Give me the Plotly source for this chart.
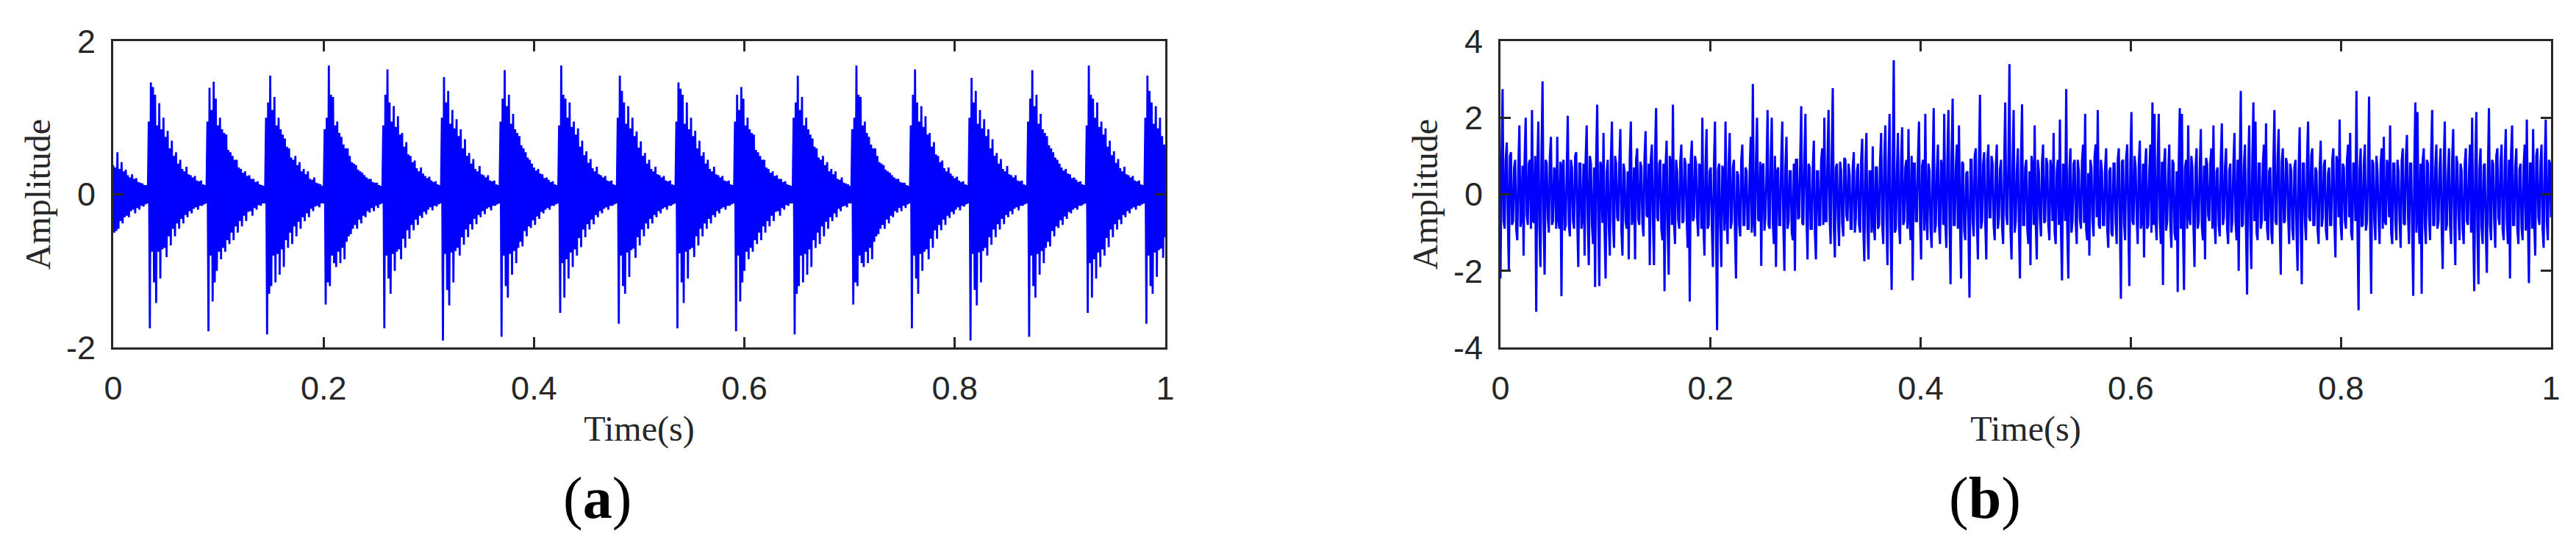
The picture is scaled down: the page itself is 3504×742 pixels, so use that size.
import numpy as np
import plotly.graph_objects as go

# ---- (a) periodic impulse signal -------------------------------------------
# tail of the previous impact, before the first impulse (t < 0.034 s)
lead_in_a = [0.38, -0.5, 0.35, -0.48, 0.55, -0.45, 0.33, -0.35, 0.42, -0.38, 0.3, -0.3,
             0.32, -0.28, 0.25, -0.3, 0.22, -0.22, 0.26, -0.2, 0.2, -0.25, 0.21, -0.18,
             0.16, -0.2, 0.15, -0.15, 0.14, -0.16, 0.12, -0.13, 0.12, -0.12]

# one row per impact, 56 samples per period; the last impact is cut at t = 1 s
bursts_a = [
    [0.95, -1.75, 1.46, -0.75, 1.4, -1.15, 1.3, -1.42, 0.9, -0.75, 1.19, -1.1, 0.85, -0.72, 1.0, -0.7, 0.75, -0.82, 0.83, -0.55, 0.6, -0.67, 0.7, -0.45, 0.5, -0.55, 0.55, -0.38,
     0.4, -0.45, 0.45, -0.32, 0.33, -0.38, 0.3, -0.27, 0.36, -0.3, 0.26, -0.22, 0.25, -0.25, 0.22, -0.19, 0.24, -0.17, 0.18, -0.2, 0.17, -0.15, 0.18, -0.15, 0.13, -0.13, 0.12, -0.12],
    [0.95, -1.79, 1.39, -0.8, 1.1, -1.4, 1.47, -1.15, 1.25, -1.0, 0.9, -0.75, 1.0, -0.85, 0.85, -0.7, 0.8, -0.75, 0.78, -0.6, 0.58, -0.65, 0.55, -0.5, 0.5, -0.6, 0.45, -0.42,
     0.45, -0.5, 0.35, -0.35, 0.33, -0.42, 0.28, -0.28, 0.3, -0.35, 0.24, -0.23, 0.25, -0.22, 0.2, -0.28, 0.2, -0.18, 0.16, -0.2, 0.17, -0.14, 0.13, -0.15, 0.12, -0.12, 0.11, -0.12],
    [1.0, -1.83, 1.2, -1.3, 1.55, -1.2, 1.1, -0.8, 1.27, -1.15, 0.9, -0.78, 1.0, -1.05, 0.85, -0.72, 0.78, -0.95, 0.73, -0.6, 0.62, -0.7, 0.6, -0.5, 0.48, -0.65, 0.45, -0.42,
     0.5, -0.55, 0.38, -0.36, 0.42, -0.45, 0.3, -0.3, 0.33, -0.35, 0.26, -0.25, 0.3, -0.3, 0.2, -0.19, 0.19, -0.22, 0.22, -0.16, 0.15, -0.15, 0.14, -0.17, 0.13, -0.12, 0.11, -0.12],
    [0.85, -1.44, 1.0, -1.15, 1.68, -1.2, 1.3, -0.8, 1.27, -0.9, 0.9, -0.95, 0.95, -0.75, 0.8, -0.9, 0.75, -0.7, 0.65, -0.85, 0.6, -0.62, 0.6, -0.55, 0.5, -0.52, 0.42, -0.45,
     0.4, -0.4, 0.38, -0.45, 0.32, -0.33, 0.3, -0.38, 0.28, -0.28, 0.25, -0.3, 0.22, -0.22, 0.2, -0.24, 0.2, -0.18, 0.16, -0.22, 0.15, -0.15, 0.15, -0.18, 0.12, -0.13, 0.11, -0.12],
    [0.9, -1.75, 1.3, -0.8, 1.63, -1.1, 1.2, -1.3, 0.95, -0.78, 1.15, -1.0, 0.88, -0.75, 1.02, -0.72, 0.78, -0.85, 0.8, -0.58, 0.62, -0.7, 0.68, -0.47, 0.52, -0.58, 0.5, -0.4,
     0.42, -0.47, 0.44, -0.33, 0.34, -0.4, 0.3, -0.28, 0.35, -0.31, 0.27, -0.23, 0.24, -0.26, 0.21, -0.2, 0.23, -0.17, 0.18, -0.21, 0.16, -0.15, 0.17, -0.16, 0.13, -0.13, 0.12, -0.12],
    [1.0, -1.91, 1.53, -0.78, 1.2, -1.25, 1.35, -1.45, 0.92, -0.76, 1.1, -1.15, 0.86, -0.74, 0.98, -0.7, 0.76, -0.8, 0.85, -0.56, 0.6, -0.66, 0.72, -0.46, 0.5, -0.56, 0.54, -0.39,
     0.4, -0.46, 0.46, -0.32, 0.33, -0.39, 0.3, -0.27, 0.37, -0.3, 0.26, -0.22, 0.25, -0.26, 0.22, -0.19, 0.25, -0.17, 0.18, -0.21, 0.17, -0.15, 0.18, -0.15, 0.13, -0.13, 0.12, -0.12],
    [0.95, -1.86, 1.25, -0.8, 1.62, -1.2, 1.15, -1.35, 1.3, -0.78, 0.92, -1.05, 1.05, -0.74, 0.85, -0.9, 0.8, -0.7, 0.76, -0.62, 0.64, -0.68, 0.6, -0.48, 0.55, -0.55, 0.48, -0.42,
     0.45, -0.44, 0.4, -0.34, 0.35, -0.4, 0.31, -0.29, 0.33, -0.32, 0.27, -0.23, 0.26, -0.25, 0.21, -0.2, 0.22, -0.18, 0.19, -0.2, 0.16, -0.15, 0.17, -0.15, 0.13, -0.13, 0.12, -0.12],
    [0.9, -1.55, 1.68, -0.9, 1.3, -1.35, 1.25, -0.85, 1.0, -1.1, 1.2, -0.76, 0.88, -0.95, 0.95, -0.72, 0.78, -0.8, 0.86, -0.57, 0.62, -0.69, 0.7, -0.46, 0.51, -0.56, 0.56, -0.39,
     0.41, -0.46, 0.46, -0.33, 0.34, -0.39, 0.3, -0.27, 0.36, -0.3, 0.26, -0.22, 0.25, -0.25, 0.22, -0.19, 0.24, -0.17, 0.18, -0.2, 0.17, -0.15, 0.18, -0.15, 0.13, -0.13, 0.12, -0.12],
    [1.0, -1.69, 1.55, -0.8, 1.35, -1.2, 1.2, -1.3, 0.92, -0.76, 1.15, -1.08, 0.86, -0.73, 1.0, -0.71, 0.76, -0.83, 0.82, -0.56, 0.61, -0.67, 0.69, -0.46, 0.5, -0.55, 0.54, -0.38,
     0.4, -0.45, 0.45, -0.32, 0.33, -0.38, 0.3, -0.27, 0.36, -0.3, 0.26, -0.22, 0.25, -0.25, 0.22, -0.19, 0.24, -0.17, 0.18, -0.2, 0.17, -0.15, 0.18, -0.15, 0.13, -0.13, 0.12, -0.12],
    [0.95, -1.75, 1.46, -0.77, 1.38, -1.15, 1.3, -1.42, 0.92, -0.75, 1.2, -1.1, 0.85, -0.72, 1.0, -0.7, 0.76, -0.82, 0.83, -0.55, 0.6, -0.67, 0.7, -0.45, 0.5, -0.55, 0.55, -0.38,
     0.4, -0.45, 0.45, -0.32, 0.33, -0.38, 0.3, -0.27, 0.36, -0.3, 0.26, -0.22, 0.25, -0.25, 0.22, -0.19, 0.24, -0.17, 0.18, -0.2, 0.17, -0.15, 0.18, -0.15, 0.13, -0.13, 0.12, -0.12],
    [0.95, -1.79, 1.3, -0.8, 1.1, -1.4, 1.4, -1.15, 1.25, -1.0, 0.9, -0.75, 1.0, -0.85, 0.85, -0.7, 0.8, -0.75, 0.78, -0.6, 0.58, -0.65, 0.55, -0.5, 0.5, -0.6, 0.45, -0.42,
     0.45, -0.5, 0.35, -0.35, 0.33, -0.42, 0.28, -0.28, 0.3, -0.35, 0.24, -0.23, 0.25, -0.22, 0.2, -0.28, 0.2, -0.18, 0.16, -0.2, 0.17, -0.14, 0.13, -0.15, 0.12, -0.12, 0.11, -0.12],
    [1.0, -1.83, 1.2, -1.3, 1.55, -1.2, 1.1, -0.8, 1.27, -1.15, 0.9, -0.78, 1.0, -1.05, 0.85, -0.72, 0.78, -0.95, 0.73, -0.6, 0.62, -0.7, 0.6, -0.5, 0.48, -0.65, 0.45, -0.42,
     0.5, -0.55, 0.38, -0.36, 0.42, -0.45, 0.3, -0.3, 0.33, -0.35, 0.26, -0.25, 0.3, -0.3, 0.2, -0.19, 0.19, -0.22, 0.22, -0.16, 0.15, -0.15, 0.14, -0.17, 0.13, -0.12, 0.11, -0.12],
    [0.85, -1.44, 1.0, -1.15, 1.68, -1.2, 1.3, -0.8, 1.27, -0.9, 0.9, -0.95, 0.95, -0.75, 0.8, -0.9, 0.75, -0.7, 0.65, -0.85, 0.6, -0.62, 0.6, -0.55, 0.5, -0.52, 0.42, -0.45,
     0.4, -0.4, 0.38, -0.45, 0.32, -0.33, 0.3, -0.38, 0.28, -0.28, 0.25, -0.3, 0.22, -0.22, 0.2, -0.24, 0.2, -0.18, 0.16, -0.22, 0.15, -0.15, 0.15, -0.18, 0.12, -0.13, 0.11, -0.12],
    [0.9, -1.75, 1.3, -0.8, 1.63, -1.1, 1.2, -1.3, 0.95, -0.78, 1.15, -1.0, 0.88, -0.75, 1.02, -0.72, 0.78, -0.85, 0.8, -0.58, 0.62, -0.7, 0.68, -0.47, 0.52, -0.58, 0.5, -0.4,
     0.42, -0.47, 0.44, -0.33, 0.34, -0.4, 0.3, -0.28, 0.35, -0.31, 0.27, -0.23, 0.24, -0.26, 0.21, -0.2, 0.23, -0.17, 0.18, -0.21, 0.16, -0.15, 0.17, -0.16, 0.13, -0.13, 0.12, -0.12],
    [1.0, -1.91, 1.52, -0.78, 1.2, -1.25, 1.35, -1.45, 0.92, -0.76, 1.1, -1.15, 0.86, -0.74, 0.98, -0.7, 0.76, -0.8, 0.85, -0.56, 0.6, -0.66, 0.72, -0.46, 0.5, -0.56, 0.54, -0.39,
     0.4, -0.46, 0.46, -0.32, 0.33, -0.39, 0.3, -0.27, 0.37, -0.3, 0.26, -0.22, 0.25, -0.26, 0.22, -0.19, 0.25, -0.17, 0.18, -0.21, 0.17, -0.15, 0.18, -0.15, 0.13, -0.13, 0.12, -0.12],
    [0.95, -1.86, 1.25, -0.8, 1.62, -1.2, 1.15, -1.35, 1.3, -0.78, 0.92, -1.05, 1.05, -0.74, 0.85, -0.9, 0.8, -0.7, 0.76, -0.62, 0.64, -0.68, 0.6, -0.48, 0.55, -0.55, 0.48, -0.42,
     0.45, -0.44, 0.4, -0.34, 0.35, -0.4, 0.31, -0.29, 0.33, -0.32, 0.27, -0.23, 0.26, -0.25, 0.21, -0.2, 0.22, -0.18, 0.19, -0.2, 0.16, -0.15, 0.17, -0.15, 0.13, -0.13, 0.12, -0.12],
    [0.9, -1.55, 1.68, -0.9, 1.3, -1.35, 1.25, -0.85, 1.0, -1.1, 1.2, -0.76, 0.88, -0.95, 0.95, -0.72, 0.78, -0.8, 0.86, -0.57, 0.62, -0.69, 0.7, -0.46, 0.51, -0.56, 0.56, -0.39,
     0.41, -0.46, 0.46, -0.33, 0.34, -0.39, 0.3, -0.27, 0.36, -0.3, 0.26, -0.22, 0.25, -0.25, 0.22, -0.19, 0.24, -0.17, 0.18, -0.2, 0.17, -0.15, 0.18, -0.15, 0.13, -0.13, 0.12, -0.12],
    [1.0, -1.69, 1.55, -0.8, 1.35, -1.2, 1.2, -1.3, 0.92, -0.76, 1.15, -1.08, 0.86, -0.73, 1.0, -0.71, 0.76, -0.83, 0.65, -0.56],
]

# ---- (b) noise signal (1000 samples over 1 s) ------------------------------
sig_b = [
    -2.2, 0.8, 2.75, -0.7, -0.9, 0.9, 1.35, -0.6, -2.0, 1.0, 1.1, -0.8, -0.7, 0.7, 0.9, -0.9, -1.2, 0.65, 1.8, -0.85,
    -0.6, 0.75, -1.6, 0.95, 2.0, -0.55, -0.8, 0.8, 0.9, -0.9, 2.2, -0.7, -0.75, 1.0, -3.07, 0.6, 1.9, -0.8, -1.9, 0.9,
    2.95, -0.7, -2.1, 0.9, 0.8, -0.6, -1.0, 1.0, 1.5, -0.8, -0.7, 0.7, 0.6, -0.9, 1.5, -0.65, -0.9, 0.85, -2.66, 0.75,
    0.9, -0.95, -0.8, 0.55, 2.05, -0.8, -1.1, 0.9, 0.7, -0.7, -0.9, 1.0, 1.1, -0.6, -1.9, 0.8, 0.8, -0.9, -0.6, 0.8,
    -1.6, 0.9, 1.8, -0.6, -1.85, 1.0, 0.8, -0.8, -1.3, 0.7, -2.42, 0.9, 2.34, -0.65, -2.4, 0.85, 0.7, -0.75, 1.6, -0.95,
    -2.2, 0.55, 0.9, -0.8, -1.6, 0.9, 1.9, -0.7, -1.4, 1.0, 0.8, -0.6, -0.7, 0.8, 1.7, -0.9, -1.6, 0.8, 0.6, -0.7,
    -0.9, 0.6, -1.7, 1.0, 1.9, -0.8, -0.6, 0.7, -1.7, 0.9, 1.2, -0.65, -0.8, 0.85, 0.7, -0.75, -1.1, 0.95, 1.65, -0.55,
    -0.6, 0.8, -1.85, 0.9, 1.3, -0.7, -1.85, 1.0, 2.25, -0.6, -0.7, 0.8, 0.9, -0.9, -1.2, 0.8, -2.53, 0.7, 1.4, -0.9,
    -2.1, 1.0, 0.8, -0.8, 2.34, -0.7, -1.3, 0.9, 0.6, -0.65, -0.9, 0.85, 1.3, -0.75, -0.7, 0.95, 0.8, -0.55, -1.4, 0.8,
    -2.8, 0.9, 1.4, -0.7, -0.6, 1.0, 0.8, -0.6, -1.1, 0.8, 0.7, -0.9, 2.0, -0.8, -1.6, 0.7, 1.7, -0.9, -0.8, 0.6,
    0.7, -0.8, -1.9, 0.7, 1.9, -0.9, -3.55, 0.65, 0.8, -0.85, -1.9, 0.75, 0.6, -0.95, 1.9, -0.55, -1.3, 0.8, 1.6, -0.9,
    -0.7, 0.7, 0.9, -1.0, -2.2, 0.6, 0.5, -0.8, -1.1, 0.9, 1.3, -0.8, -0.8, 0.7, 0.6, -0.9, -0.9, 0.6, 1.5, -1.0,
    2.88, -0.7, -1.1, 0.9, 2.0, -0.65, -0.7, 0.85, -1.87, 0.75, 0.8, -0.95, -0.6, 0.55, 2.2, -0.8, -0.9, 0.9, 2.0, -0.7,
    -1.3, 1.0, -1.9, 0.6, 0.7, -0.8, -0.8, 0.9, 1.9, -0.8, -2.0, 0.7, 1.5, -0.9, -0.7, 0.6, 0.6, -1.0, -1.2, 0.8,
    -2.0, 0.9, 0.9, -0.65, -0.6, 0.85, 2.3, -0.75, -0.8, 0.95, 2.1, -0.55, -1.7, 0.8, 0.7, -0.9, -0.9, 0.7, 1.4, -1.0,
    -1.7, 0.6, 0.6, -0.8, -0.8, 0.9, 1.2, -0.8, 2.0, -0.7, -0.7, 0.9, 2.2, -0.6, -1.3, 1.0, 2.77, -0.8, -1.65, 0.7,
    0.8, -0.65, -1.35, 0.85, 0.6, -0.75, -1.1, 0.95, 0.9, -0.55, -0.7, 0.8, 0.5, -0.9, -0.9, 0.7, 1.1, -1.0, -0.6, 0.6,
    0.8, -0.8, -1.0, 0.9, 1.45, -0.8, -1.75, 0.7, 1.6, -0.9, -1.7, 0.6, 0.6, -1.0, 1.25, -0.8, -1.2, 0.7, 0.7, -0.9,
    -0.8, 0.85, 1.6, -0.75, -1.3, 0.95, 1.8, -0.55, -1.85, 0.8, 2.1, -0.9, -2.5, 0.7, 3.5, -1.0, -0.9, 0.6, 1.6, -0.8,
    -1.3, 0.9, 1.75, -0.8, -0.7, 0.7, 0.9, -0.9, 1.7, -0.6, -1.2, 1.0, -2.25, 0.8, 0.8, -0.7, -0.7, 0.9, 1.9, -0.65,
    -1.7, 0.75, 0.9, -0.95, 2.1, -0.55, -1.2, 0.8, 0.6, -0.9, -1.4, 0.7, 2.25, -1.0, -0.8, 0.6, 1.3, -0.8, -1.3, 0.9,
    0.7, -0.8, 2.1, -0.7, -1.4, 0.9, 2.2, -0.6, -2.35, 1.0, 2.5, -0.8, -0.8, 0.7, 1.3, -0.9, 1.8, -0.65, -2.2, 0.85,
    0.8, -0.95, -1.2, 0.55, 0.6, -0.8, -2.7, 0.9, 0.9, -0.7, -1.1, 1.0, 1.2, -0.6, -1.7, 0.8, 2.6, -0.9, -0.7, 0.8,
    1.1, -0.7, -1.7, 0.9, 1.3, -0.6, -0.6, 1.0, 0.8, -0.8, -1.2, 0.7, 1.3, -0.9, -0.6, 0.65, 0.9, -0.85, -1.3, 0.75,
    2.4, -0.55, -0.8, 0.8, 3.4, -0.9, -1.7, 0.7, 2.2, -1.0, -0.7, 0.6, 1.2, -0.8, -2.2, 0.9, 2.35, -0.8, -0.8, 0.7,
    0.9, -0.9, -1.3, 0.6, -1.85, 1.0, 0.7, -0.8, 1.8, -0.7, -1.7, 0.9, 0.6, -0.65, -1.1, 0.85, 1.3, -0.75, -0.7, 0.95,
    0.8, -0.8, -1.2, 0.9, 0.6, -0.7, 1.6, -1.0, -1.3, 0.6, 0.9, -0.8, 1.95, -0.9, -2.25, 0.8, 0.7, -0.7, 2.75, -0.9,
    -2.2, 0.6, 1.2, -1.0, -0.7, 0.8, 0.9, -0.7, -1.3, 0.9, 0.6, -0.65, -0.9, 0.85, 1.3, -0.75, 2.1, -0.95, -1.2, 0.55,
    -1.6, 0.9, 0.7, -0.7, -1.1, 1.0, 1.3, -0.6, 2.2, -0.8, -0.9, 0.9, 0.6, -0.8, -0.8, 0.7, 1.2, -0.9, -1.4, 0.6,
    0.7, -1.0, -1.1, 0.8, 0.8, -0.7, -1.3, 0.9, 1.2, -0.65, -2.73, 0.85, 0.9, -0.75, -1.2, 0.95, 1.3, -0.55, -2.4, 0.8,
    2.15, -0.7, -0.8, 1.0, 0.7, -0.6, -1.3, 0.8, 1.4, -0.9, -0.7, 0.8, -1.65, 0.7, 1.2, -0.9, -0.8, 0.6, 1.3, -1.0,
    2.4, -0.8, 2.1, -0.7, -1.2, 0.9, 2.1, -0.65, -1.3, 0.85, -2.37, 0.75, 1.2, -0.95, -0.7, 0.55, 1.3, -0.8, -1.4, 0.9,
    0.8, -1.0, -1.2, 0.6, -2.55, 0.8, 2.25, -0.9, 2.1, -0.8, -2.5, 0.7, 0.9, -0.9, 1.8, -0.6, -0.8, 1.0, 0.7, -0.8,
    -1.9, 0.7, 1.2, -0.9, -0.7, 0.65, 1.7, -0.85, -1.2, 0.75, -1.7, 0.95, 0.8, -0.55, -0.7, 0.8, 1.2, -0.9, 1.8, -0.7,
    -1.3, 0.6, 0.7, -0.8, -1.1, 0.9, 1.85, -0.8, -0.6, 0.7, 1.2, -0.9, -1.3, 0.6, 0.8, -1.0, -0.7, 0.8, 1.6, -0.7,
    -1.2, 0.9, -2.0, 0.65, 2.7, -0.85, -0.8, 0.75, 1.3, -0.95, -2.62, 0.55, 1.8, -0.8, -1.95, 0.9, 2.4, -0.7, 1.9, -1.0,
    -1.2, 0.8, 0.8, -0.9, -0.7, 0.8, 1.3, -0.7, 1.85, -0.9, -1.2, 0.6, 0.7, -1.0, -1.3, 0.8, 2.2, -0.7, -0.8, 0.9,
    1.7, -0.65, -2.1, 0.85, 1.2, -0.75, -0.7, 0.95, 0.8, -0.55, -1.3, 0.8, 0.6, -0.9, -1.2, 0.7, 0.9, -1.0, -2.0, 0.6,
    1.75, -0.9, -2.35, 0.8, 0.8, -0.7, -1.2, 0.9, 1.9, -0.6, -0.7, 1.0, 1.2, -0.8, -0.8, 0.7, 0.6, -0.9, -1.3, 0.65,
    1.4, -0.85, -0.6, 0.75, 0.9, -0.95, -1.2, 0.55, 0.7, -0.8, -0.8, 0.9, 1.2, -0.7, -1.65, 1.0, 0.8, -0.6, 1.95, -0.8,
    -1.2, 0.8, 0.7, -0.7, -0.9, 0.9, 1.3, -0.6, 1.6, -1.0, -1.2, 0.8, 0.8, -0.7, 2.7, -0.9, -3.03, 0.65, 1.2, -0.85,
    -0.8, 0.75, 1.3, -0.95, -0.7, 0.55, 2.55, -0.8, -2.6, 0.9, 0.8, -0.7, -1.2, 1.0, 0.6, -0.6, -1.3, 0.8, 1.2, -0.9,
    1.5, -0.7, -0.8, 0.9, 0.7, -0.6, 1.8, -1.0, -1.3, 0.8, 0.8, -0.7, -1.2, 0.9, 0.6, -0.65, -1.4, 0.85, 1.2, -0.75,
    -0.8, 0.95, 1.55, -0.55, -1.3, 0.8, 0.8, -0.9, -2.65, 0.7, 2.4, -1.0, 2.15, -0.6, -1.3, 0.8, -2.6, 0.9, 1.2, -0.8,
    -1.3, 0.9, 0.8, -0.6, -1.2, 1.0, 2.2, -0.8, -0.8, 0.7, 1.3, -0.9, -0.7, 0.65, 1.2, -0.85, -1.95, 0.75, 1.9, -0.95,
    -0.8, 0.55, 1.2, -0.8, -1.3, 0.9, 1.7, -0.7, -1.85, 1.0, 0.8, -0.6, -1.2, 0.8, 0.6, -0.9, -1.3, 0.8, 1.2, -0.7,
    -0.8, 0.6, 1.3, -1.0, 2.0, -0.8, -2.53, 0.7, 2.15, -0.9, -2.35, 0.65, 1.2, -0.85, -1.3, 0.75, 0.8, -0.95, -2.05, 0.55,
    2.25, -0.8, -1.2, 0.9, 0.8, -0.7, -1.4, 1.0, 1.2, -0.6, -0.8, 0.8, 1.3, -0.9, -1.2, 0.8, 1.7, -0.7, -1.3, 0.9,
    -2.2, 1.0, 1.8, -0.8, -0.8, 0.7, 1.2, -0.9, -1.3, 0.65, 0.8, -0.85, -1.2, 0.75, 1.3, -0.95, 1.95, -0.55, -2.32, 0.8,
    0.8, -0.9, 1.7, -0.7, -1.6, 1.0, 1.2, -0.6, -0.8, 0.8, 1.3, -0.9, -1.4, 0.8, 1.95, -0.7, -1.2, 0.9, 0.8, -0.6,
]

time_ticks = [0, 0.2, 0.4, 0.6, 0.8, 1]
time_labels = ["0", "0.2", "0.4", "0.6", "0.8", "1"]
amp_ticks_a = [-2, 0, 2]
amp_labels_a = ["-2", "0", "2"]
amp_ticks_b = [-4, -2, 0, 2, 4]
amp_labels_b = ["-4", "-2", "0", "2", "4"]

# assemble the sample streams, sampled evenly over 1 s
sig_a = list(lead_in_a)
for row in bursts_a:
    sig_a.extend(row)
t_a = np.linspace(0, 1, len(sig_a))
t_b = np.linspace(0, 1, len(sig_b))

AXIS_COLOR = "#262626"
TICK_FONT = dict(family="Liberation Sans, Arial, sans-serif", size=45, color=AXIS_COLOR)
TITLE_FONT = dict(family="Liberation Serif, Times New Roman, serif", size=48, color=AXIS_COLOR)

fig = go.Figure()
fig.add_trace(go.Scatter(x=t_a, y=sig_a, mode="lines", xaxis="x", yaxis="y",
                         line=dict(color="#0000FF", width=2.8, simplify=False),
                         showlegend=False))
fig.add_trace(go.Scatter(x=t_b, y=sig_b, mode="lines", xaxis="x2", yaxis="y2",
                         line=dict(color="#0000FF", width=3.0, simplify=False),
                         showlegend=False))

axis_style = dict(
    showline=True, linecolor=AXIS_COLOR, linewidth=3, mirror="ticks",
    ticks="inside", ticklen=14, tickwidth=3, tickcolor=AXIS_COLOR,
    showgrid=False, zeroline=False, tickfont=TICK_FONT, automargin=False,
)

x_dom_a = [146 / 3504, 1577 / 3504]
x_dom_b = [2033 / 3504, 3462 / 3504]
y_dom = [1 - 465 / 742, 1 - 48 / 742]

fig.update_layout(
    width=3504, height=742,
    paper_bgcolor="white", plot_bgcolor="white",
    margin=dict(l=0, r=0, t=0, b=0, autoexpand=False),
    xaxis=dict(domain=x_dom_a, anchor="y", range=[0, 1], tickvals=time_ticks,
               ticktext=time_labels, ticklabelstandoff=14,
               title=dict(text="Time(s)", font=TITLE_FONT, standoff=14), **axis_style),
    yaxis=dict(domain=y_dom, anchor="x", range=[-2, 2], tickvals=amp_ticks_a,
               ticktext=amp_labels_a, ticklabelstandoff=12,
               title=dict(text="Amplitude", font=TITLE_FONT, standoff=7), **axis_style),
    xaxis2=dict(domain=x_dom_b, anchor="y2", range=[0, 1], tickvals=time_ticks,
                ticktext=time_labels, ticklabelstandoff=14,
                title=dict(text="Time(s)", font=TITLE_FONT, standoff=14), **axis_style),
    yaxis2=dict(domain=y_dom, anchor="x2", range=[-4, 4], tickvals=amp_ticks_b,
                ticktext=amp_labels_b, ticklabelstandoff=12,
                title=dict(text="Amplitude", font=TITLE_FONT, standoff=7), **axis_style),
)

# panel captions
for label, xc in [("a", 804 / 3504), ("b", 2692 / 3504)]:
    fig.add_annotation(
        text=f"(<b>{label}</b>)", x=xc, y=(742 - 670) / 742, xref="paper", yref="paper",
        xanchor="center", yanchor="middle", showarrow=False,
        font=dict(family="Liberation Serif, Times New Roman, serif", size=80, color="black"),
    )

fig.write_html("out.html")
